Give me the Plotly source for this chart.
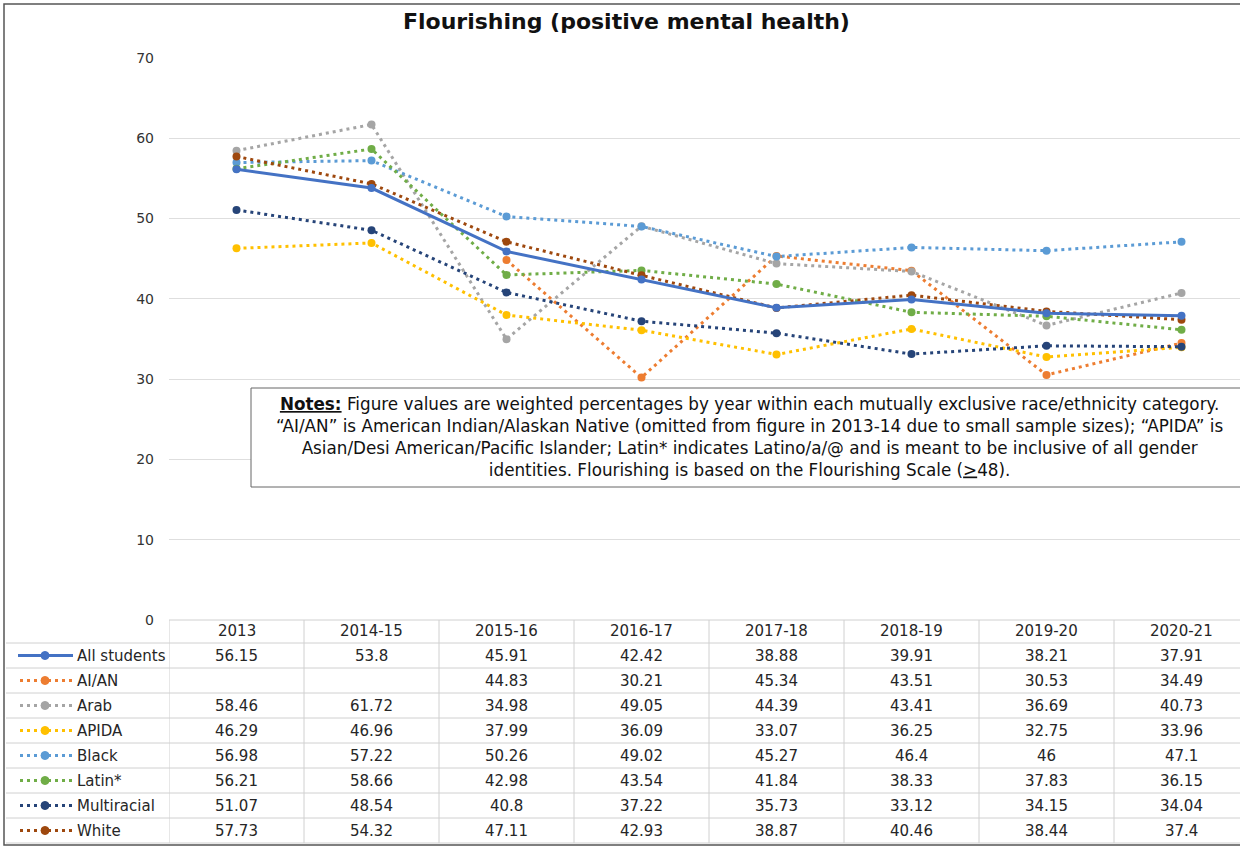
import plotly.graph_objects as go

years = ["2013", "2014-15", "2015-16", "2016-17", "2017-18", "2018-19", "2019-20", "2020-21"]
groups = ["All students", "AI/AN", "Arab", "APIDA", "Black", "Latin*", "Multiracial", "White"]

all_students = [56.15, 53.8, 45.91, 42.42, 38.88, 39.91, 38.21, 37.91]
ai_an = [None, None, 44.83, 30.21, 45.34, 43.51, 30.53, 34.49]
arab = [58.46, 61.72, 34.98, 49.05, 44.39, 43.41, 36.69, 40.73]
apida = [46.29, 46.96, 37.99, 36.09, 33.07, 36.25, 32.75, 33.96]
black = [56.98, 57.22, 50.26, 49.02, 45.27, 46.4, 46, 47.1]
latin = [56.21, 58.66, 42.98, 43.54, 41.84, 38.33, 37.83, 36.15]
multiracial = [51.07, 48.54, 40.8, 37.22, 35.73, 33.12, 34.15, 34.04]
white = [57.73, 54.32, 47.11, 42.93, 38.87, 40.46, 38.44, 37.4]

series = [all_students, ai_an, arab, apida, black, latin, multiracial, white]
colors = ["#4472C4", "#ED7D31", "#A5A5A5", "#FFC000", "#5B9BD5", "#70AD47", "#264478", "#9E480E"]
y_ticks = [0, 10, 20, 30, 40, 50, 60, 70]

W, H = 1240, 847
L, T, Bm = 169, 58, 227
PW = W - L
PH = H - T - Bm

def px2x(px):
    return (px - L) / PW

def py2y(py):
    return (H - Bm - py) / PH

FONT = "DejaVu Sans, Liberation Sans, Arial, sans-serif"
TXT = "#262626"

fig = go.Figure()
xs = list(range(len(years)))
order = [1, 2, 3, 4, 5, 6, 7, 0]
for i in order:
    is_all = i == 0
    fig.add_trace(go.Scatter(
        x=xs, y=series[i], name=groups[i], mode="lines+markers",
        connectgaps=False,
        line=dict(color=colors[i], width=3, dash="solid" if is_all else "3px,4px"),
        marker=dict(color=colors[i], size=8, symbol="circle"),
        showlegend=False,
    ))

shapes = []
annotations = []

# Title
annotations.append(dict(text="<b>Flourishing (positive mental health)</b>", x=px2x(626), y=py2y(22),
                        xref="paper", yref="paper", showarrow=False,
                        font=dict(size=22, color="#111", family=FONT), xanchor="center", yanchor="middle"))

# Outer frame
shapes.append(dict(type="rect", xref="paper", yref="paper", x0=px2x(4), x1=px2x(1260),
                   y0=py2y(845), y1=py2y(4), line=dict(color="#555", width=1.5), layer="above"))

# Table geometry
header_top = 620
row_h = 25
header_bottom = 643
row_centers = [header_bottom + row_h * (k + 0.5) for k in range(len(groups))]
table_bottom = header_bottom + row_h * len(groups)
grid_col = "#d0d0d0"

shapes.append(dict(type="line", xref="paper", yref="paper", x0=px2x(169), x1=px2x(1260),
                   y0=py2y(header_top), y1=py2y(header_top), line=dict(color=grid_col, width=1)))
for k in range(len(groups) + 1):
    yy = header_bottom + row_h * k
    shapes.append(dict(type="line", xref="paper", yref="paper", x0=px2x(6), x1=px2x(1260),
                       y0=py2y(yy), y1=py2y(yy), line=dict(color=grid_col, width=1)))
for j in range(len(years) + 1):
    shapes.append(dict(type="line", xref="x", yref="paper", x0=j - 0.5, x1=j - 0.5,
                       y0=py2y(header_top), y1=py2y(table_bottom), line=dict(color=grid_col, width=1)))

for j, yr in enumerate(years):
    annotations.append(dict(text=yr, x=j, y=py2y(631), xref="x", yref="paper", showarrow=False,
                            font=dict(size=15, color=TXT, family=FONT), xanchor="center", yanchor="middle"))

for k, g in enumerate(groups):
    yc = row_centers[k]
    if k == 0:
        shapes.append(dict(type="line", xref="paper", yref="paper", x0=px2x(18), x1=px2x(73),
                           y0=py2y(yc), y1=py2y(yc), line=dict(color=colors[k], width=3)))
    else:
        shapes.append(dict(type="line", xref="paper", yref="paper", x0=px2x(20), x1=px2x(72),
                           y0=py2y(yc), y1=py2y(yc), line=dict(color=colors[k], width=3, dash="3px,4px")))
    shapes.append(dict(type="circle", xref="paper", yref="paper", x0=px2x(41), x1=px2x(49),
                       y0=py2y(yc + 4), y1=py2y(yc - 4), line=dict(color=colors[k], width=1),
                       fillcolor=colors[k]))
    annotations.append(dict(text=g, x=px2x(75), y=py2y(yc), xref="paper", yref="paper", showarrow=False,
                            font=dict(size=15, color=TXT, family=FONT), xanchor="left", yanchor="middle"))
    for j, v in enumerate(series[k]):
        if v is None:
            continue
        annotations.append(dict(text=f"{v:g}", x=j, y=py2y(yc), xref="x", yref="paper", showarrow=False,
                                font=dict(size=15, color=TXT, family=FONT),
                                xanchor="center", yanchor="middle"))

# Notes box
shapes.append(dict(type="rect", xref="paper", yref="paper", x0=px2x(251), x1=px2x(1262),
                   y0=py2y(487), y1=py2y(388), line=dict(color="#666", width=1),
                   fillcolor="white", layer="above"))
notes = ("<b><u>Notes:</u></b> Figure values are weighted percentages by year within each mutually exclusive race/ethnicity category.<br>"
         "\u201cAI/AN\u201d is American Indian/Alaskan Native (omitted from figure in 2013-14 due to small sample sizes); \u201cAPIDA\u201d is<br>"
         "Asian/Desi American/Pacific Islander; Latin* indicates Latino/a/@ and is meant to be inclusive of all gender<br>"
         "identities. Flourishing is based on the Flourishing Scale (<u>&gt;</u>48).")
annotations.append(dict(text=notes, x=px2x(749), y=py2y(437), xref="paper", yref="paper", showarrow=False,
                        font=dict(size=16.8, color="#111", family=FONT), xanchor="center", yanchor="middle",
                        align="center"))

fig.update_layout(
    width=W, height=H,
    margin=dict(l=L, r=0, t=T, b=Bm, pad=0),
    paper_bgcolor="white", plot_bgcolor="white",
    shapes=shapes, annotations=annotations,
    xaxis=dict(range=[-0.5, len(years) - 0.5 - 9 / 135], showticklabels=False, showgrid=False,
               zeroline=False, showline=False, ticks=""),
    yaxis=dict(range=[0, 70], tickvals=y_ticks, showgrid=True, gridcolor="#dedede", gridwidth=1,
               zeroline=False, showline=False, ticks="", ticklabelstandoff=14,
               tickfont=dict(size=14, color="#333", family=FONT)),
    font=dict(family=FONT),
)

fig.write_html("out.html", config={"displayModeBar": False},
               post_script="document.body.style.margin='0';document.body.style.overflow='hidden';")
